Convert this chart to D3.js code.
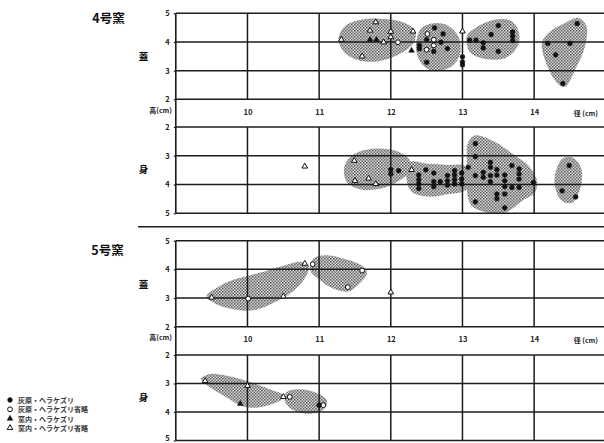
<!DOCTYPE html>
<html><head><meta charset="utf-8">
<script src="https://cdn.jsdelivr.net/npm/d3@7"></script>
<style>body{margin:0;background:#fff}svg{display:block}</style>
</head><body><svg id="c" width="604" height="443"></svg>
<script>
// ---------- data ----------
const xTicks = [10, 11, 12, 13, 14];
const yTicks = [2, 3, 4, 5];
const kilnTitles = ["4号窯", "5号窯"];
const partNames = ["蓋", "身"];
const xAxisLabel = "径 (cm)";
const yAxisLabel = "高(cm)";
const legendTypes = ["fc", "oc", "ft", "ot"];
const legendLabels = ["灰原・ヘラケズリ", "灰原・ヘラケズリ省略", "窯内・ヘラケズリ", "窯内・ヘラケズリ省略"];

// points: [type, diameter, height]
const k4LidPoints = [
  ["ot",11.79,4.69],["ot",11.71,4.40],["ot",12.0,4.36],["ot",12.31,4.37],["ot",11.31,4.08],
  ["ft",11.71,4.08],["ft",11.80,4.08],["ot",11.90,3.99],["ot",12.0,4.17],["oc",12.10,3.99],
  ["ot",11.60,3.50],["ft",12.29,3.70],["ot",13.0,4.37],
  ["fc",12.61,4.49],["oc",12.51,4.28],["fc",12.73,4.28],["fc",12.40,3.88],["fc",12.40,3.76],
  ["fc",12.50,4.08],["oc",12.60,4.08],["fc",12.70,3.99],["oc",12.60,3.88],["oc",12.50,3.73],
  ["fc",12.60,3.67],["fc",12.79,3.77],["fc",12.50,3.29],["fc",13.0,3.48],["fc",13.0,3.30],["fc",13.0,3.20],
  ["fc",13.10,4.06],["fc",13.19,4.06],["fc",13.29,3.97],["fc",13.29,3.79],["fc",13.40,4.26],
  ["fc",13.50,4.57],["fc",13.50,3.67],["fc",13.70,4.35],["fc",13.70,4.20],["fc",13.70,4.05],
  ["fc",14.19,3.95],["fc",14.50,3.95],["fc",14.30,3.55],["fc",14.40,2.55],["fc",14.60,4.64]
];
const k4BodyPoints = [
  ["ot",10.80,3.37],["ot",11.49,3.17],["ot",11.50,3.87],["ot",11.69,3.79],["ot",11.79,3.98],
  ["fc",12.0,3.48],["fc",12.0,3.63],["fc",12.11,3.52],["ot",12.29,3.49],["fc",12.49,3.49],
  ["fc",12.39,3.67],["fc",12.39,3.83],["fc",12.39,3.98],["fc",12.39,4.14],
  ["fc",12.60,3.60],["fc",12.60,3.90],["fc",12.60,4.07],["fc",12.69,3.90],
  ["fc",12.79,3.69],["fc",12.79,3.87],["fc",12.79,4.02],
  ["fc",12.89,3.52],["fc",12.89,3.67],["fc",12.89,3.83],["fc",12.89,3.98],
  ["fc",12.99,3.60],["fc",12.99,3.81],["fc",12.99,3.98],["fc",13.08,3.40],
  ["fc",13.18,2.58],["fc",13.18,3.03],["fc",13.18,3.69],["fc",13.18,4.60],
  ["fc",13.29,3.58],["fc",13.29,3.75],["fc",13.39,3.23],["fc",13.39,3.40],["fc",13.39,3.69],["fc",13.39,3.90],
  ["fc",13.48,3.48],["fc",13.48,3.67],["fc",13.48,4.33],["fc",13.48,4.49],
  ["fc",13.59,3.67],["fc",13.59,3.87],["fc",13.59,4.07],["fc",13.59,4.33],["fc",13.59,4.81],
  ["fc",13.69,3.34],["fc",13.69,4.10],["fc",13.79,3.46],["fc",13.79,3.63],["fc",13.79,3.81],["fc",13.79,4.10],
  ["fc",13.99,3.93],["fc",14.49,3.34],["fc",14.39,4.22],["fc",14.58,4.43]
];
const k5LidPoints = [
  ["ot",9.50,3.02],["oc",10.01,2.98],["ot",10.50,3.06],["ot",10.80,4.20],["oc",10.91,4.18],
  ["oc",11.60,3.96],["oc",11.40,3.38],["ot",12.0,3.20]
];
const k5BodyPoints = [
  ["ot",9.41,2.91],["ot",10.0,3.08],["ft",9.90,3.71],["ot",10.50,3.47],["oc",10.59,3.47],
  ["fc",11.0,3.76],["oc",11.06,3.76]
];

// group outlines (diameter, height)
const k4LidGroups = [
  [[11.27,4.10],[11.36,4.55],[11.60,4.78],[11.92,4.80],[12.20,4.66],[12.34,4.37],[12.32,3.97],[12.11,3.56],[11.83,3.33],[11.55,3.36],[11.34,3.67]],
  [[12.36,4.08],[12.43,4.49],[12.62,4.66],[12.80,4.57],[12.94,4.20],[12.97,3.62],[12.85,3.15],[12.62,2.98],[12.46,3.15],[12.36,3.62]],
  [[13.06,4.20],[13.18,4.49],[13.46,4.78],[13.69,4.72],[13.79,4.31],[13.77,3.85],[13.60,3.44],[13.32,3.41],[13.11,3.62]],
  [[14.11,3.97],[14.20,4.31],[14.43,4.66],[14.62,4.84],[14.73,4.55],[14.71,3.85],[14.57,3.03],[14.43,2.43],[14.32,2.57],[14.15,3.38]]
];
const k4BodyGroups = [
  [[11.35,3.40],[11.46,2.99],[11.73,2.76],[12.06,2.82],[12.25,3.11],[12.29,3.46],[12.15,3.81],[11.87,4.14],[11.57,4.16],[11.39,3.93]],
  [[12.25,3.23],[12.53,3.28],[12.80,3.32],[13.04,3.37],[13.06,4.16],[12.80,4.33],[12.53,4.42],[12.29,4.25],[12.22,3.81]],
  [[13.06,3.23],[13.08,2.53],[13.18,2.29],[13.46,2.53],[13.73,2.99],[13.92,3.34],[14.04,3.87],[14.01,4.28],[13.83,4.57],[13.60,4.98],[13.36,4.98],[13.13,4.74],[13.06,4.16]],
  [[14.29,3.69],[14.39,3.11],[14.53,3.05],[14.66,3.46],[14.64,4.16],[14.53,4.63],[14.39,4.57],[14.30,4.16]]
];
const k5LidGroups = [
  [[9.43,3.06],[9.62,3.43],[9.85,3.67],[10.17,3.88],[10.49,4.12],[10.75,4.26],[10.86,4.12],[10.82,3.77],[10.63,3.23],[10.35,2.82],[10.08,2.57],[9.80,2.61],[9.55,2.80]],
  [[10.91,4.35],[11.09,4.49],[11.37,4.35],[11.60,4.12],[11.67,3.88],[11.55,3.47],[11.41,3.23],[11.18,3.35],[11.0,3.65],[10.88,3.94]]
];
const k5BodyGroups = [
  [[9.35,2.85],[9.48,2.67],[9.71,2.73],[9.99,2.91],[10.31,3.20],[10.52,3.44],[10.40,3.67],[10.12,3.85],[9.92,3.79],[9.71,3.49],[9.48,3.14]],
  [[10.54,3.32],[10.72,3.20],[10.95,3.32],[11.11,3.61],[11.04,3.96],[10.82,4.06],[10.63,3.92],[10.52,3.61]]
];

// ---------- drawing ----------
const svg = d3.select("#c");
const INK = "#1c1c1c";
const FONT = "'Noto Sans CJK JP','Noto Sans',sans-serif";

const defs = svg.append("defs");
const pat = defs.append("pattern").attr("id","dots").attr("patternUnits","userSpaceOnUse")
  .attr("width",3).attr("height",3);
pat.append("rect").attr("width",3).attr("height",3).attr("fill","#d0d0d0");
pat.append("rect").attr("x",0).attr("y",0).attr("width",1.5).attr("height",1.5).attr("fill","#646464");
pat.append("rect").attr("x",1.5).attr("y",1.5).attr("width",1.5).attr("height",1.5).attr("fill","#747474");

const x = d3.scaleLinear().domain([9, 15]).range([175.8, 605.8]);

const panels = [
  {top:13.3, bottom:99.3, inv:false, pts:k4LidPoints, groups:k4LidGroups, part:0, labelY:115.5},
  {top:127,  bottom:213.3, inv:true, pts:k4BodyPoints, groups:k4BodyGroups, part:1},
  {top:240.7,bottom:326.7, inv:false, pts:k5LidPoints, groups:k5LidGroups, part:0, labelY:342.5},
  {top:355,  bottom:440.5, inv:true, pts:k5BodyPoints, groups:k5BodyGroups, part:1}
];

function sym(type){
  if (type==="fc"||type==="oc") return d3.symbol(d3.symbolCircle, 18)();
  return d3.symbol(d3.symbolTriangle, 14)();
}
function drawMark(g, type, px, py){
  const filled = type==="fc"||type==="ft";
  g.append("path").attr("d", sym(type)).attr("transform",`translate(${px},${py})`)
    .attr("fill", filled? "#111" : "#fff").attr("stroke","#111").attr("stroke-width", filled?0.5:1);
}

panels.forEach(p=>{
  const y = d3.scaleLinear().domain(p.inv?[2,5]:[5,2]).range([p.top,p.bottom]);
  const g = svg.append("g");
  // blobs
  const line = d3.line().x(d=>x(d[0])).y(d=>y(d[1])).curve(d3.curveCatmullRomClosed.alpha(0.5));
  g.selectAll("path.blob").data(p.groups).join("path").attr("class","blob")
    .attr("d", line).attr("fill","url(#dots)").attr("stroke","none");
  // grid
  g.selectAll("line.h").data(yTicks).join("line").attr("class","h")
    .attr("x1", x(9)).attr("x2", 604).attr("y1", d=>y(d)).attr("y2", d=>y(d))
    .attr("stroke", INK).attr("stroke-width", 1.5);
  g.selectAll("line.v").data(xTicks).join("line").attr("class","v")
    .attr("x1", d=>x(d)).attr("x2", d=>x(d)).attr("y1", p.top).attr("y2", p.bottom)
    .attr("stroke", INK).attr("stroke-width", 1.5);
  // y axis via d3
  const ax = d3.axisLeft(y).tickValues(yTicks).tickFormat(d3.format("d")).tickSize(2).tickPadding(4);
  const ag = g.append("g").attr("transform",`translate(${x(9)},0)`).call(ax);
  ag.select(".domain").remove();
  ag.selectAll("line").attr("stroke",INK).attr("stroke-width",1.2);
  ag.selectAll("text").attr("font-family",FONT).attr("font-size",7.5).attr("font-weight","bold").attr("fill","#222")
    .attr("y", d => (y(d) > 436 ? -2.5 : 0));
  // part label
  g.append("text").attr("x",143.5).attr("y",(p.top+p.bottom)/2 + (p.inv?-1:0)).attr("text-anchor","middle")
    .attr("dominant-baseline","central").attr("font-family",FONT).attr("font-size",9.5)
    .attr("font-weight","bold").attr("fill","#111").text(partNames[p.part]);
  // points
  p.pts.forEach(d=>drawMark(g, d[0], x(d[1]), y(d[2])));
  // x labels
  if (p.labelY){
    const xa = d3.axisBottom(x).tickValues(xTicks).tickFormat(d3.format("d")).tickSize(0).tickPadding(0);
    const xg = g.append("g").attr("transform",`translate(0,${p.labelY-6})`).call(xa);
    xg.select(".domain").remove();
    xg.selectAll("text").attr("font-family",FONT).attr("font-size",7.5).attr("font-weight","bold").attr("fill","#222");
    g.append("text").attr("x",598).attr("y",p.labelY).attr("text-anchor","end").attr("font-family",FONT)
      .attr("font-size",7).attr("font-weight","bold").attr("fill","#222").text(xAxisLabel);
    g.append("text").attr("x",172).attr("y",p.labelY-2.5).attr("text-anchor","end").attr("font-family",FONT)
      .attr("font-size",7).attr("font-weight","bold").attr("fill","#222").text(yAxisLabel);
  }
});

// continuous left axis lines per kiln
[[panels[0].top, panels[1].bottom],[panels[2].top, panels[3].bottom]].forEach(r=>{
  svg.append("line").attr("x1",x(9)).attr("x2",x(9)).attr("y1",r[0]).attr("y2",r[1])
    .attr("stroke",INK).attr("stroke-width",1.6);
});
// separator between kilns
svg.append("line").attr("x1",138).attr("x2",604).attr("y1",226.8).attr("y2",226.8)
  .attr("stroke",INK).attr("stroke-width",1.5);

// kiln titles
svg.append("text").attr("x",108.5).attr("y",17).attr("text-anchor","middle").attr("dominant-baseline","central")
  .attr("font-family",FONT).attr("font-size",12.5).attr("font-weight","bold").attr("fill","#111").text(kilnTitles[0]);
svg.append("text").attr("x",107.5).attr("y",249).attr("text-anchor","middle").attr("dominant-baseline","central")
  .attr("font-family",FONT).attr("font-size",12.5).attr("font-weight","bold").attr("fill","#111").text(kilnTitles[1]);

// legend
const lg = svg.append("g");
legendTypes.forEach((t,i)=>{
  const ly = 400 + i*9.3;
  drawMark(lg, t, 10, ly);
  lg.append("text").attr("x",18).attr("y",ly).attr("dominant-baseline","central")
    .attr("font-family",FONT).attr("font-size",7).attr("font-weight","bold").attr("fill","#333").text(legendLabels[i]);
});
</script>
</body></html>
